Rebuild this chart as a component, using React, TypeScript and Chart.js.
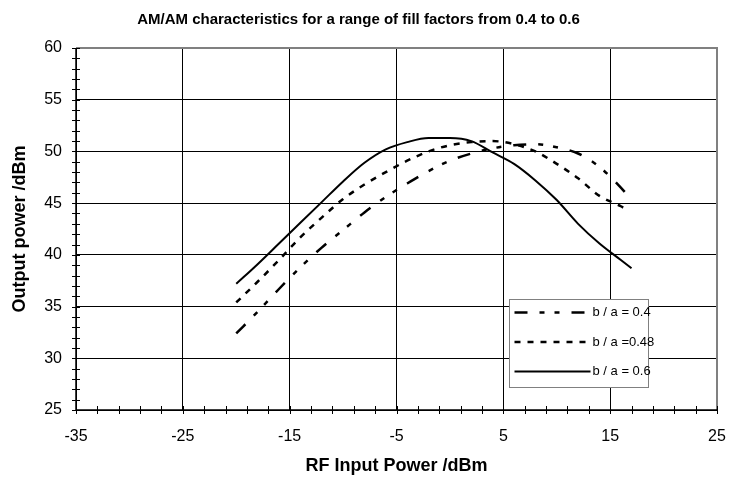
import React, { useEffect, useRef } from "react";
import { Chart, registerables } from "chart.js";

Chart.register(...registerables);

const titleText = "AM/AM characteristics for a range of fill factors from 0.4 to 0.6";
const xTitle = "RF Input Power /dBm";
const yTitle = "Output power /dBm";

const seriesLabels = ["b / a = 0.4", "b / a =0.48", "b / a = 0.6"];

const xA = [-20, -18, -16, -14, -12, -10, -8, -6, -4, -2, 0, 2, 4, 6, 8, 10, 12, 14, 16, 17];
const yA = [32.4, 34.5, 36.7, 38.8, 40.7, 42.4, 44.1, 45.6, 46.9, 48.1, 49.1, 49.8, 50.3, 50.6, 50.7, 50.4, 49.8, 48.5, 46.5, 45.3];

const xB = [-20, -18, -16, -14, -12, -10, -8, -6, -4, -2, 0, 2, 4, 6, 8, 10, 12, 14, 16, 16.5];
const yB = [35.4, 37.4, 39.5, 41.7, 43.6, 45.4, 46.8, 48.0, 49.1, 50.0, 50.6, 50.9, 51.0, 50.7, 50.0, 48.8, 47.4, 45.7, 44.7, 44.4];

const xC = [-20, -18, -16, -14, -12, -10, -8, -6, -4, -2, 0, 2, 4, 6, 8, 10, 12, 14, 16, 17];
const yC = [37.2, 39.1, 41.1, 43.1, 45.1, 47.1, 48.9, 50.2, 50.9, 51.3, 51.3, 51.0, 49.9, 48.8, 47.2, 45.3, 43.0, 41.1, 39.5, 38.7];

const xMin = -35, xMax = 25, xStep = 10, xMinor = 2;
const yMin = 25, yMax = 60, yStep = 5, yMinor = 1;

const FONT = "'Liberation Sans', Arial, sans-serif";

const decorPlugin = {
  id: "decor",
  afterDraw(chart: any) {
    const ctx = chart.ctx;
    const ca = chart.chartArea;
    const xs = chart.scales.x;
    const ys = chart.scales.y;
    ctx.save();
    // frame top/right grey
    ctx.strokeStyle = "#808080";
    ctx.lineWidth = 2;
    ctx.beginPath();
    ctx.moveTo(ca.left, ca.top);
    ctx.lineTo(ca.right, ca.top);
    ctx.lineTo(ca.right, ca.bottom);
    ctx.stroke();
    // axes
    ctx.strokeStyle = "#000";
    ctx.lineWidth = 1.5;
    ctx.beginPath();
    ctx.moveTo(ca.left, ca.top);
    ctx.lineTo(ca.left, ca.bottom);
    ctx.lineTo(ca.right, ca.bottom);
    ctx.stroke();
    // cross ticks
    ctx.lineWidth = 1;
    ctx.beginPath();
    for (let v = xMin; v <= xMax + 1e-9; v += xMinor) {
      const px = Math.round(xs.getPixelForValue(v)) + 0.5;
      ctx.moveTo(px, ca.bottom - 4);
      ctx.lineTo(px, ca.bottom + 4);
    }
    for (let v = yMin; v <= yMax + 1e-9; v += yMinor) {
      const py = Math.round(ys.getPixelForValue(v)) + 0.5;
      ctx.moveTo(ca.left - 4, py);
      ctx.lineTo(ca.left + 4, py);
    }
    ctx.stroke();
    // legend
    const lx = ca.left + 433.5;
    const ly = ca.top + 251.5;
    const lw = 139;
    const lh = 88;
    ctx.fillStyle = "#fff";
    ctx.fillRect(lx, ly, lw, lh);
    ctx.strokeStyle = "#808080";
    ctx.lineWidth = 1;
    ctx.strokeRect(lx, ly, lw, lh);
    chart.data.datasets.forEach((ds: any, i: number) => {
      const ry = ly + 13 + i * 29.5;
      ctx.strokeStyle = ds.borderColor;
      ctx.lineWidth = ds.borderWidth;
      ctx.setLineDash(ds.borderDash || []);
      ctx.beginPath();
      ctx.moveTo(lx + 5, ry);
      ctx.lineTo(lx + 81, ry);
      ctx.stroke();
      ctx.setLineDash([]);
      ctx.fillStyle = "#000";
      ctx.font = "13px " + FONT;
      ctx.textBaseline = "middle";
      ctx.textAlign = "left";
      ctx.fillText(ds.label, lx + 83, ry);
    });
    ctx.restore();
  },
};

export default function App() {
  const ref = useRef<HTMLCanvasElement | null>(null);
  useEffect(() => {
    document.body.style.margin = "0";
    const canvas = ref.current!;
    const mk = (xs: number[], ys: number[]) => xs.map((x, i) => ({ x, y: ys[i] }));
    const chart = new Chart(canvas, {
      type: "line",
      data: {
        datasets: [
          {
            label: seriesLabels[0],
            data: mk(xA, yA),
            borderColor: "#000",
            borderWidth: 2.5,
            borderDash: [13, 12, 5, 10, 5, 12],
            pointRadius: 0,
            cubicInterpolationMode: "monotone",
            fill: false,
          },
          {
            label: seriesLabels[1],
            data: mk(xB, yB),
            borderColor: "#000",
            borderWidth: 2.5,
            borderDash: [6, 7],
            pointRadius: 0,
            cubicInterpolationMode: "monotone",
            fill: false,
          },
          {
            label: seriesLabels[2],
            data: mk(xC, yC),
            borderColor: "#000",
            borderWidth: 2,
            pointRadius: 0,
            cubicInterpolationMode: "monotone",
            fill: false,
          },
        ],
      },
      options: {
        responsive: false,
        animation: false,
        layout: { padding: { left: 0, right: 12, top: 0, bottom: 0 } },
        plugins: {
          legend: { display: false },
          tooltip: { enabled: false },
          title: {
            display: true,
            text: titleText,
            color: "#000",
            font: { family: FONT, size: 15, weight: "bold" },
            padding: { top: 11, bottom: 19 },
          },
        },
        scales: {
          x: {
            type: "linear",
            min: xMin,
            max: xMax,
            ticks: { stepSize: xStep, color: "#000", font: { family: FONT, size: 16 }, padding: 17, maxRotation: 0 },
            grid: { color: "#000", lineWidth: 1, drawTicks: false },
            border: { display: false },
            title: { display: true, text: xTitle, color: "#000", font: { family: FONT, size: 18, weight: "bold" }, padding: { top: 0, bottom: 3.2 } },
            afterFit: (s: any) => { s.height = 70; s.paddingLeft = 0; s.paddingRight = 0; },
          },
          y: {
            type: "linear",
            min: yMin,
            max: yMax,
            ticks: { stepSize: yStep, color: "#000", font: { family: FONT, size: 16 }, padding: 14 },
            grid: { color: "#000", lineWidth: 1, drawTicks: false },
            border: { display: false },
            title: { display: true, text: yTitle, color: "#000", font: { family: FONT, size: 18, weight: "bold" }, padding: { top: 9.2, bottom: 0 } },
            afterFit: (s: any) => { s.width = 76; },
          },
        },
      } as any,
      plugins: [decorPlugin],
    });
    return () => chart.destroy();
  }, []);
  return (
    <div style={{ position: "absolute", left: 0, top: 0, width: 729, height: 480 }}>
      <canvas ref={ref} width={729} height={480} />
    </div>
  );
}
